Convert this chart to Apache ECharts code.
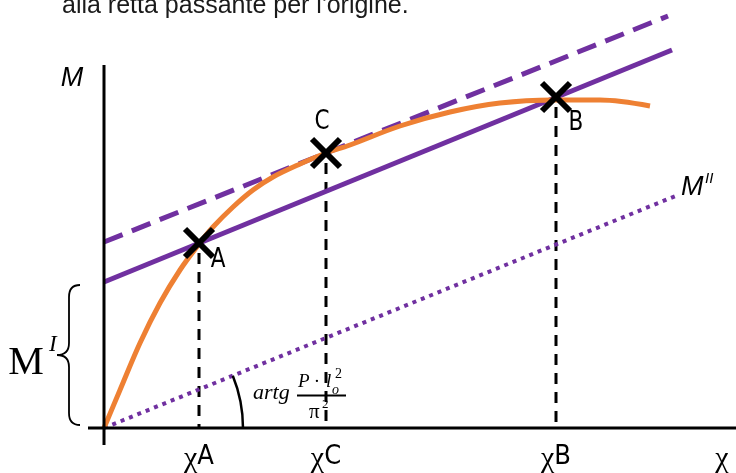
<!DOCTYPE html>
<html>
<head>
<meta charset="utf-8">
<script src="https://cdn.jsdelivr.net/npm/echarts@6/dist/echarts.min.js"></script>
<style>
  html, body { margin: 0; padding: 0; background: #ffffff; }
  #chart { width: 736px; height: 473px; }
</style>
</head>
<body>
<div id="chart"></div>
<script>
// Production curve M(χ)
const curveChi = [0, 16, 36, 56, 76, 95, 109, 129, 149, 169, 196, 222, 246, 296, 346, 396, 449, 496, 546];
const curveM   = [0, 38, 85, 125, 158, 184, 201, 221, 238, 251, 264, 275, 283, 302, 316, 325, 328, 328, 322];

// Straight lines, each as [start, end] in (χ, M)
const chordLine   = [[0, 146], [568, 378]];   // through A and B
const tangentLine = [[0, 186], [564, 412]];   // tangent at C
const originLine  = [[0, 0], [574, 233]];     // M'' through the origin

// Marked points
const pointNames = ['A', 'C', 'B'];
const pointChi   = [95, 222, 452];
const pointM     = [185, 275, 331];

// Axis extents
const xAxisSpan = [[-16, 0], [632, 0]];
const yAxisSpan = [[0, -17], [0, 363]];

// Tick labels on the χ axis
const tickChi    = [95, 222, 452, 618];
const tickLabels = ['A', 'C', 'B', ''];

const PURPLE = '#7030A0';
const ORANGE = '#EE8033';
const SANS_N = '"Liberation Sans Narrow", "DejaVu Sans Condensed", Roboto, sans-serif';
const SANS = '"Liberation Sans", Arial, sans-serif';
const SERIF = '"Liberation Serif", "DejaVu Serif", serif';

const chart = echarts.init(document.getElementById('chart'), null, { renderer: 'canvas' });

function lineSeries(data, color, width, type, z) {
  return {
    type: 'line', data: data, showSymbol: false, silent: true, z: z || 2,
    lineStyle: { color: color, width: width, type: type || 'solid', cap: 'butt' },
    animation: false
  };
}

const curveData = curveChi.map((x, i) => [x, curveM[i]]);
const pointData = pointChi.map((x, i) => [x, pointM[i], i]);

// Label offsets (pixels) for the point names
const nameOffset = { A: [19, 17], C: [-4, -31], B: [20, 26] };

const option = {
  animation: false,
  backgroundColor: '#ffffff',
  grid: { left: 0, right: 0, top: 0, bottom: 0 },
  xAxis: { type: 'value', min: -104, max: 632, show: false },
  yAxis: { type: 'value', min: -45, max: 428, show: false },
  graphic: [{
    type: 'text', left: 62, top: -6,
    style: { text: "alla retta passante per l'origine.", fontSize: 25, fontFamily: SANS, fill: '#1a1a1a' }
  }],
  series: [
    // axes
    lineSeries(xAxisSpan, '#000', 3, 'solid', 5),
    lineSeries(yAxisSpan, '#000', 3, 'solid', 5),
    // vertical drops from the marked points
    ...pointChi.map((x, i) => lineSeries([[x, pointM[i] - 10], [x, 0]], '#000', 3, [11, 8], 3)),
    // purple lines
    lineSeries(originLine, PURPLE, 4, [4, 5], 3),
    lineSeries(chordLine, PURPLE, 5, 'solid', 3),
    lineSeries(tangentLine, PURPLE, 5, [20, 10], 3),
    // orange curve
    Object.assign(lineSeries(curveData, ORANGE, 5, 'solid', 4), { smooth: 0.35 }),
    // X markers with names
    {
      type: 'custom', z: 10, silent: true, data: pointData,
      renderItem: function (params, api) {
        const p = api.coord([api.value(0), api.value(1)]);
        const h = 14;
        const name = pointNames[api.value(2)];
        const off = nameOffset[name];
        return {
          type: 'group',
          children: [
            { type: 'line', shape: { x1: p[0] - h, y1: p[1] - h, x2: p[0] + h, y2: p[1] + h }, style: { stroke: '#000', lineWidth: 6 } },
            { type: 'line', shape: { x1: p[0] - h, y1: p[1] + h, x2: p[0] + h, y2: p[1] - h }, style: { stroke: '#000', lineWidth: 6 } },
            { type: 'text', x: p[0] + off[0], y: p[1] + off[1], scaleX: 0.92,
              style: { text: name, fontSize: 26, fontFamily: SANS_N, fill: '#000', align: 'center', verticalAlign: 'middle' } }
          ]
        };
      }
    },
    // χ axis tick labels
    {
      type: 'custom', z: 10, silent: true,
      data: tickChi.map((x, i) => [x, 0, i]),
      renderItem: function (params, api) {
        const p = api.coord([api.value(0), 0]);
        const letter = tickLabels[api.value(2)];
        return {
          type: 'text', x: p[0], y: p[1] + 29,
          style: {
            text: '{g|χ}' + (letter ? '{s|' + letter + '}' : ''),
            align: 'center', verticalAlign: 'middle', fill: '#000',
            rich: {
              g: { fontSize: 30, fontFamily: SERIF, fill: '#000', padding: [5, 0, 0, 0] },
              s: { fontSize: 27, fontFamily: SANS_N, fill: '#000' }
            }
          }
        };
      }
    },
    // annotations: M labels, brace, angle
    {
      type: 'custom', z: 10, silent: true, data: [[0, 0]],
      renderItem: function (params, api) {
        const o = api.coord([0, 0]);
        const top = api.coord([0, chordLine[0][1] - 3]);
        const bot = api.coord([0, 3]);
        const end = api.coord(originLine[1]);
        const r = api.coord([139, 0])[0] - o[0];
        const ang = Math.atan2(end[1] - o[1], end[0] - o[0]);
        const xr = o[0] - 24, xv = o[0] - 35, xt = o[0] - 47;
        const y0 = top[1], y1 = bot[1], ym = (y0 + y1) / 2;
        const brace = 'M' + xr + ',' + y0 + ' Q' + xv + ',' + y0 + ' ' + xv + ',' + (y0 + 12) +
          ' L' + xv + ',' + (ym - 12) + ' Q' + xv + ',' + ym + ' ' + xt + ',' + ym +
          ' Q' + xv + ',' + ym + ' ' + xv + ',' + (ym + 12) +
          ' L' + xv + ',' + (y1 - 12) + ' Q' + xv + ',' + y1 + ' ' + xr + ',' + y1;
        const yTop = api.coord(yAxisSpan[1]);
        const mEnd = api.coord(originLine[1]);
        function txt(x, y, text, size, family, style, align) {
          return { type: 'text', x: x, y: y,
            style: { text: text, fontSize: size, fontFamily: family, fontStyle: style || 'normal',
                     fill: '#000', align: align || 'left', verticalAlign: 'middle' } };
        }
        return {
          type: 'group',
          children: [
            { type: 'path', shape: { pathData: brace }, style: { stroke: '#000', lineWidth: 1.8, fill: 'none' } },
            { type: 'arc', shape: { cx: o[0], cy: o[1], r: r, startAngle: ang, endAngle: 0, clockwise: true },
              style: { stroke: '#000', lineWidth: 2.5, fill: 'none' } },
            // M on the vertical axis
            txt(yTop[0] - 32, yTop[1] + 13, 'M', 27, SANS, 'italic', 'center'),
            // M^I beside the brace
            txt(o[0] - 78, o[1] - 65, 'M', 40, SERIF, 'normal', 'center'),
            txt(o[0] - 55, o[1] - 83, 'I', 23, SERIF, 'italic'),
            // M^II at the end of the dotted line
            txt(mEnd[0] + 3, mEnd[1] - 8, 'M', 27, SANS, 'italic'),
            txt(mEnd[0] + 27, mEnd[1] - 16, 'II', 15, SANS, 'italic'),
            // angle: artg (P·lo²)/π²
            txt(o[0] + 149, o[1] - 35, 'artg', 22, SERIF, 'italic'),
            { type: 'line', shape: { x1: o[0] + 193, y1: o[1] - 32.5, x2: o[0] + 242, y2: o[1] - 32.5 },
              style: { stroke: '#000', lineWidth: 2 } },
            txt(o[0] + 194, o[1] - 46, 'P ·', 19, SERIF, 'italic'),
            txt(o[0] + 222, o[1] - 46, 'l', 19, SERIF, 'italic'),
            txt(o[0] + 228, o[1] - 38, 'o', 14, SERIF, 'italic'),
            txt(o[0] + 231, o[1] - 54, '2', 14, SERIF, 'normal'),
            txt(o[0] + 205, o[1] - 16, 'π', 21, SERIF, 'normal'),
            txt(o[0] + 218, o[1] - 23, '2', 13, SERIF, 'normal')
          ]
        };
      }
    }
  ]
};

chart.setOption(option);
</script>
</body>
</html>
